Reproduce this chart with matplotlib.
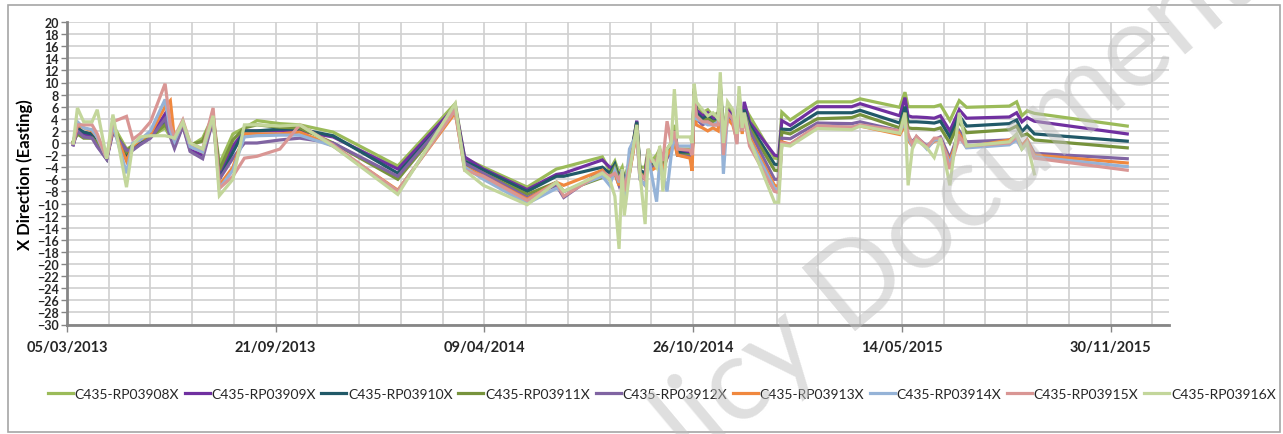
import numpy as np
import pandas as pd
import matplotlib
matplotlib.use('Agg')
import matplotlib.pyplot as plt
import matplotlib.dates as mdates
from matplotlib.patches import Rectangle

plt.rcParams['font.family'] = ['Lato', 'DejaVu Sans']

# ---------------------------------------------------------------------------
# Data
# ---------------------------------------------------------------------------
start_date = pd.Timestamp('2013-03-05')
day_offsets = [6, 10, 16, 24, 29, 38, 44, 57, 63, 70, 80, 94, 99, 103, 111, 118,
               130, 140, 146, 159, 170, 182, 204, 223, 255, 317, 372, 381,
               399, 441, 469, 476, 513,
               520, 525, 529, 532, 534, 539, 546, 549, 554, 557, 560, 565, 568,
               571, 575, 579, 582, 585, 597, 599, 601, 603, 609, 614, 619, 624,
               626, 629, 633, 638, 642, 644, 647, 649, 654, 678, 682, 685, 693,
               719, 752, 760, 798, 803, 806, 810, 814, 824, 831, 837, 846, 855,
               862, 903, 910, 915, 920, 927, 1016]

rp03908 = [0.3, 1.5, 1, 1, 0, -2.5, 3, -1, -0.5, 0.3, 1, 2.5, 1, 0, 3, -0.5,
           0.8, 4.5, -3.5, 1.5, 2.5, 3.7, 3.2, 3, 1.8, -3.8, 6.5, -2.5,
           -4, -7.3, -4.3, -4, -2.3,
           -4.5, -3, -5, -4, -6, -3, 3.5, -4, -4, -1, -3, -2, -1,
           -3, -1, 0, 3, -1, -1, -1.5, 9, 6.5, 5, 5.5, 4.5, 5,
           10, 2, 6, 5, 2, 8, 3, 6, 4.5, -2.5, -2.6, 5.1, 3.8,
           6.8, 6.8, 7.3, 5.9, 8.4, 6, 6, 6, 6, 6, 6.3, 3.7, 7,
           5.9, 6.1, 6.8, 4.5, 5.3, 4.9, 2.8]
rp03909 = [-0.3, 2.5, 1.5, 1.2, -0.5, -2.6, 2, -1.2, -1, -0.2, 1, 4.8, 1.5, -0.6, 3, -1.2,
           -2, 4, -5, -0.5, 2, 2, 2, 2, 1, -4.3, 6, -2.3,
           -4.3, -7.7, -5.2, -5, -2.8,
           -4, -4, -5.5, -4.5, -7, -4, 3.7, -5, -5, -1.5, -3.5, -3, -1.5,
           -3.5, -1.5, -0.5, 2, -1.5, -1.5, -2, 8.5, 5.5, 4.5, 5, 4, 4.5,
           9, 1.5, 5.5, 4.5, 1.5, 7.5, 3, 6.8, 3.5, -2, -2.2, 3.7, 2.9,
           6, 6, 6.5, 4.5, 7.5, 4.5, 4.3, 4.3, 4.2, 4.1, 4.5, 2, 5.5,
           4.1, 4.3, 5, 3.5, 4.2, 3.6, 1.5]
rp03910 = [0, 2.5, 1.8, 1.5, -0.2, -2.6, 2.5, -2.2, -0.6, 0.3, 1, 3.5, 1.5, 0, 3.3, -0.5,
           -1.5, 4, -6, -1.5, 2, 2, 2.3, 2.3, 1.2, -5, 5.5, -3,
           -4.5, -8, -5.5, -5.5, -4,
           -5, -3.5, -6, -4.5, -7, -4, 3.5, -4.5, -5, -1.5, -3.5, -3, -1.5,
           -3.5, -1.5, -0.5, 2, -1.5, -2, -2.5, 8, 5, 4, 4.5, 3.5, 4,
           9.5, 1, 5, 4, 1.5, 7, 2.5, 5.5, 3, -3.5, -3.6, 2.3, 2.2,
           5, 5, 5.4, 3.3, 6, 3.5, 3.5, 3.5, 3.4, 3.3, 3.6, 1, 4.5,
           2.8, 3.2, 3.8, 1.9, 2.8, 1.5, 0.3]
rp03911 = [0.2, 1.5, 0.8, 0.8, 0, -2.5, 2.5, -1.5, -0.3, 0.5, 1, 3, 1.5, 0.5, 3, -0.3,
           0.3, 4.3, -4.5, 0.5, 2.5, 3, 2.6, 2.5, 0, -6, 5.5, -3.5,
           -5, -8.5, -6.5, -8, -5.7,
           -5.5, -4, -6, -5, -8, -4.5, 3, -5, -5.5, -2, -4, -3.5, -2,
           -4, -2, -1, 2, -2, -2, -2.5, 8.5, 4.5, 3.5, 4, 3.5, 3.5,
           9, 1, 5, 4, 1, 7, 2.5, 5, 2.5, -4.5, -4.6, 1.8, 1.5,
           4, 4.2, 4.7, 2.5, 5, 2.5, 2.4, 2.4, 2.3, 2.2, 2.5, 0, 3.5,
           1.7, 2.2, 2.8, 1.2, 1.5, 0.5, -0.8]
rp03912 = [-0.3, 2, 1, 0.8, -0.6, -2.7, 1.8, -1.2, -1.2, -0.3, 0.8, 4, 1, -0.9, 2.8, -1.4,
           -2.6, 3.8, -6, -2.5, 0, 0, 0.5, 0.8, 0, -5.5, 5.5, -3.3,
           -5, -9, -7, -9, -4.5,
           -6, -5, -7, -5.5, -9, -5, 2.5, -5.5, -6, -2.5, -4, -4, -2.5,
           -4.5, -2.5, -1.5, 1, -2, -2.3, -3, 8, 4, 3, 3.5, 3, 3,
           8.5, 0.5, 4.5, 3.5, 1, 6.5, 2, 5, 2, -6, -6, 0.8, 0.7,
           3.3, 3.2, 3.5, 2, 4, 1, 0.2, 1, -0.5, 0.5, 1, -2.5, 2,
           0.2, 0.5, 1.2, -0.5, 0.5, -1.7, -2.6]
rp03913 = [0, 3, 2.5, 2, 1, -2.5, 2.5, -3, -0.5, 0.5, 1.5, 6, 7, 0.5, 3.3, -0.5,
           -1.5, 4.3, -7, -4, 1.5, 1.5, 1.5, 1.8, -0.5, -7.8, 5, -4,
           -5.5, -9.3, -6.5, -7, -4.5,
           -6, -5, -7, -5, -9, -5, 2, -6, -7, -3, -4.5, -4, -2.5,
           -5, -2, -1, 0, -2, -2.5, -4.6, 7, 3, 2.5, 2, 2.5, 2,
           8, -1, 4, 3, 0.5, 6, 1.5, 4.5, 1, -7, -7.2, 0.2, -0.2,
           2.8, 2.6, 2.8, 1.4, 3, 0.5, -0.5, 0.8, -0.8, 0.3, 0.5, -3, 1.5,
           -0.7, 0.5, 1, -0.5, 0.5, -2, -3.3]
rp03914 = [0, 3.5, 2.5, 2.2, 1, -2.5, 3, -5, 0, 0.5, 2, 7.2, 2, 0.3, 3.5, -0.6,
           -1.5, 4.5, -7.5, -4.5, 1, 1.2, 1.3, 1.3, -0.5, -8, 5.5, -4,
           -6, -10, -7.5, -8, -5.5,
           -7, -4.5, -6.5, -4.5, -10, -1, 1.5, -6, -7, -2, -5, -9.7, -3,
           -5, -8, -2, 1, -0.5, -0.5, -1, 7.5, 4, 3.5, 3, 3, 3.5,
           9, -5.1, 5, 4, 0, 7, 2, 4.5, 0.5, -7.5, -7.8, -0.2, -0.3,
           2.8, 2.6, 3, 1.8, 3.5, 1, -0.5, 1, -1, 0.5, 0.5, -3.5, 1,
           -0.8, -0.3, 0.5, -1, 0, -2.3, -3.9]
rp03915 = [0, 3, 3, 3, 1.5, -2.5, 3.5, 4.4, 0.6, 1.5, 3.5, 9.8, 3, 1, 3.8, 0,
           -1, 5.8, -7.5, -5.5, -2.5, -2.2, -1, 3, -0.3, -8, 5.5, -4.5,
           -5.5, -9.5, -6.5, -8.8, -4.8,
           -5.5, -5, -6, -5, -8, -4, 2, -5, -6, -1, -3, -3, -1,
           -3, 3.6, 0, 2, -1, -1.2, -2, 8, 4.5, 3.5, 3.5, 3, 3,
           9, -2, 5, 4, -0.2, 7, 2, 4.5, -0.5, -8, -8.2, 0, -0.2,
           2.8, 2.6, 3, 2, 4, 1.5, -0.2, 1.1, -0.7, 0.8, 0.8, -4.3, 1,
           -0.5, 0, 1, -0.8, 0.2, -2.5, -4.5]
rp03916 = [0, 5.8, 3.5, 3.5, 5.5, -2.6, 4.7, -7.3, -0.3, 1, 1.2, 1.2, 1, 0.8, 3.5, 0,
           -1, 4.5, -8.7, -6, 3, 3, 2.8, 3, -0.5, -8.5, 6.5, -4.5,
           -7, -10.2, -6.5, -8, -5,
           -6, -8.8, -17.5, -4.3, -12, -5, 3, -5, -13.4, -1, -2.5, -4, -0.5,
           -8, -1, 0, 8.9, 1, 1, 0, 9.8, 6.8, 5.5, 4.5, 5, 4,
           11.7, 0, 6.8, 5.5, 1.5, 9.4, 2.5, 5, 0.5, -9.8, -9.8, -0.3, -0.5,
           2.4, 2.2, 2.8, 1.6, 5, -7, -1, 0.5, -0.8, -2.4, 0.8, -7, 5,
           -0.5, 0.2, 1.5, -1, 0, -5.1, np.nan]

series_names = ['C435-RP03908X', 'C435-RP03909X', 'C435-RP03910X',
                'C435-RP03911X', 'C435-RP03912X', 'C435-RP03913X',
                'C435-RP03914X', 'C435-RP03915X', 'C435-RP03916X']
series_values = [rp03908, rp03909, rp03910, rp03911, rp03912,
                 rp03913, rp03914, rp03915, rp03916]
series_colors = ['#9BBB59', '#7030A0', '#215968', '#77933C', '#8064A2',
                 '#F0883E', '#95B3D7', '#D99694', '#C3D69B']

dates = start_date + pd.to_timedelta(day_offsets, unit='D')

# ---------------------------------------------------------------------------
# Plot
# ---------------------------------------------------------------------------
fig = plt.figure(figsize=(12.83, 4.35), dpi=100)
ax = fig.add_axes([67 / 1283, 109.5 / 435, (1169 - 67) / 1283, (325.5 - 23) / 435])

for name, vals, col in zip(series_names, series_values, series_colors):
    ax.plot(dates, vals, color=col, lw=2.3, label=name, solid_joinstyle='miter')

# axes ranges / ticks
ax.set_ylim(-30, 20)
ax.set_yticks(np.arange(-30, 21, 2))
ax.set_xlim(start_date, start_date + pd.Timedelta(days=1056))
major = [start_date + pd.Timedelta(days=d) for d in range(0, 1001, 200)]
minor = [start_date + pd.Timedelta(days=d) for d in range(0, 1056, 40)]
ax.set_xticks(major)
ax.set_xticks(minor, minor=True)
ax.xaxis.set_major_formatter(mdates.DateFormatter('%d/%m/%Y'))

ax.grid(True, which='both', axis='x', color='#D0D0D0', lw=1.2)
ax.grid(True, which='major', axis='y', color='#D0D0D0', lw=1.2)
ax.set_axisbelow(True)

for s in ['top', 'right']:
    ax.spines[s].set_visible(False)
for s in ['left', 'bottom']:
    ax.spines[s].set_color('#868686')
    ax.spines[s].set_linewidth(2)

ax.tick_params(axis='y', which='both', length=4, width=1, color='#868686',
               labelsize=9, pad=2)
ax.tick_params(axis='x', which='major', length=5, width=1, color='#868686',
               labelsize=10.5, pad=6)
ax.tick_params(axis='x', which='minor', length=0)
for lab in ax.get_xticklabels() + ax.get_yticklabels():
    lab.set_fontweight('bold')
    lab.set_color('#262626')

ax.set_ylabel('X Direction (Easting)', fontsize=12, fontweight='bold', labelpad=3)

leg = fig.legend(loc='center left', bbox_to_anchor=(38 / 1283, 0.092), ncol=9,
                 frameon=False, fontsize=10.0, handlelength=1.8,
                 handletextpad=0.15, columnspacing=0.38, borderpad=0.2)
for t in leg.get_texts():
    t.set_color('#262626')

# outer chart frame
fig.add_artist(Rectangle((8 / 1283, 2 / 435), 1272 / 1283, 427 / 435,
                         transform=fig.transFigure, fill=False,
                         edgecolor='#A6A6A6', lw=1.2))

# watermark
fig.text(0.705, 0.43, 'Policy Document', fontsize=84, color='#BFBFBF', alpha=0.5,
         rotation=40, ha='center', va='center', zorder=10)

fig.savefig('out.png', dpi=100)
